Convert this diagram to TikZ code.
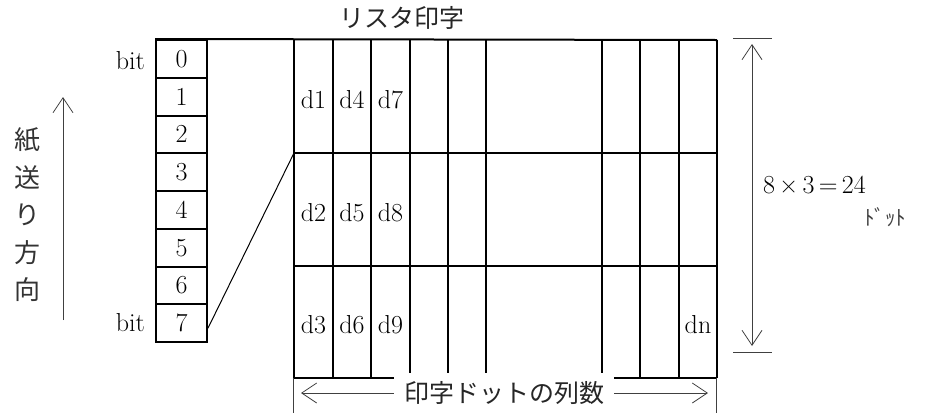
\documentclass[tikz,border=0pt]{standalone}
\usepackage{fontspec}
\newfontfamily\jp{Noto Sans CJK JP}
\usetikzlibrary{arrows.meta}
\begin{document}
\begin{tikzpicture}[x=1pt,y=-1pt,
 cell/.style={draw,line width=2pt,minimum width=51pt,minimum height=37.75pt,inner sep=0pt,font=\fontsize{26}{26}\selectfont},
 lbl/.style={font=\fontsize{26}{26}\selectfont,inner sep=0pt},
 jlabel/.style={font=\jp\fontsize{25}{25}\selectfont,inner sep=0pt,text=black!85},
 gridline/.style={line width=2pt},
 dim/.style={line width=0.8pt,draw=black!75},
 barb/.tip={Straight Barb[length=15pt,width=20pt]}]
\useasboundingbox (0,0) rectangle (928,413);
% bit column
\foreach \i in {0,...,7}
  \node[cell] (b\i) at (181.5,{40+37.75*(\i+0.5)}) {\i};
\node[lbl,anchor=east] (bit0) at (145,61) {bit};
\node[lbl,anchor=east] (bit7) at (145,323) {bit};
% grid
\draw[gridline] (b0.north west) -- (717,40);
\foreach \x in {294,333,371,410,448,486,602,640,679,717}
  \draw[gridline] (\x,40) -- (\x,378);
\foreach \y in {153,266,378}
  \draw[gridline] (294,\y) -- (717,\y);
\coordinate (g) at (294,153);
\draw[line width=1pt] ([yshift=-5pt]b7.east) -- (g);
% dot labels
\node[lbl] (d1) at (313.5,100) {d1};
\node[lbl] (d4) at (352,100) {d4};
\node[lbl] (d7) at (390.5,100) {d7};
\node[lbl] (d2) at (313.5,213) {d2};
\node[lbl] (d5) at (352,213) {d5};
\node[lbl] (d8) at (390.5,213) {d8};
\node[lbl] (d3) at (313.5,325) {d3};
\node[lbl] (d6) at (352,325) {d6};
\node[lbl] (d9) at (390.5,325) {d9};
\node[lbl] (dn) at (698,325) {dn};
% title
\node[jlabel] (title) at (402,18) {リスタ印字};
% bottom dimension
\node[jlabel,fill=white,minimum height=40pt,inner xsep=10pt] (cols) at (504,393) {印字ドットの列数};
\draw[dim] (293,378) -- (293,413);
\draw[dim] (716,378) -- (716,413);
\coordinate (al) at (301,393);
\coordinate (ar) at (708,393);
\draw[dim,-barb] (cols.west) -- (al);
\draw[dim,-barb] (cols.east) -- (ar);
% left arrow
\coordinate (fa) at (63,320);
\coordinate (fb) at (63,97);
\draw[dim,-barb] (fa) -- (fb);
\node[font=\jp\fontsize{26}{37.5}\selectfont,align=center,inner sep=0pt,text=black!80] (feed) at (27,215) {紙\\送\\り\\方\\向};
% right dimension
\coordinate (t1) at (733,38);
\coordinate (t2) at (772,38);
\coordinate (t3) at (733,352);
\coordinate (t4) at (772,352);
\draw[dim] (t1) -- (t2);
\draw[dim] (t3) -- (t4);
\coordinate (v1) at (752,44);
\coordinate (v2) at (752,346);
\draw[dim,barb-barb] (v1) -- (v2);
\node[lbl,anchor=west] (num) at (763,185) {8\,×\,3\,=\,24};
\node[font=\jp\fontsize{21}{21}\selectfont,anchor=west,inner sep=0pt,text=black!75] (unit) at (864,217) {ﾄﾞｯﾄ};
\end{tikzpicture}
\end{document}
